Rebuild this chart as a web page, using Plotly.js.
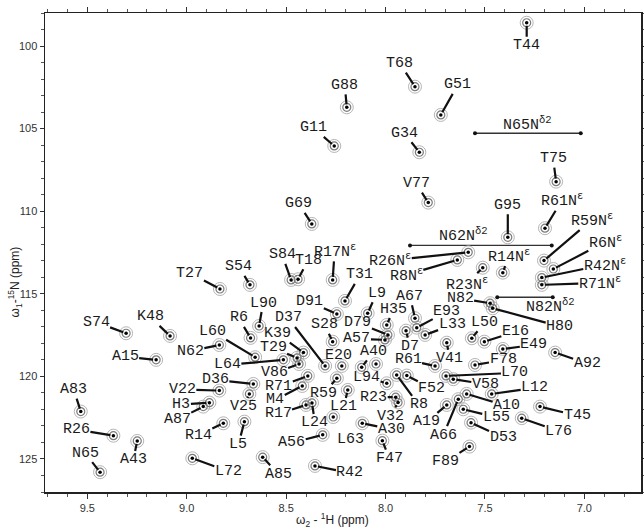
<!DOCTYPE html>
<html>
<head>
<meta charset="utf-8">
<script src="https://cdn.plot.ly/plotly-3.0.1.min.js"></script>
<style>html,body{margin:0;padding:0;background:#fff;}#chart{width:644px;height:529px;}</style>
</head>
<body>
<div id="chart"></div>
<script>
// Peak assignments (1H ppm, 15N ppm)
const peakLabels = ['T44','T68','G88','G51','G11','G34','T75','V77','G69','G95',
 'R61N<sup>ε</sup>','R17N<sup>ε</sup>','R26N<sup>ε</sup>','R8N<sup>ε</sup>','R59N<sup>ε</sup>','R6N<sup>ε</sup>','R42N<sup>ε</sup>','R71N<sup>ε</sup>','R14N<sup>ε</sup>','R23N<sup>ε</sup>',
 'N82','H80','T27','S54','S84','T18','T31','S74','K48','A15',
 'L90','R6','N62','L60','L64','K39','T29','V86','D36','V22',
 'H3','A87','V25','R71','M4','R17','L24','R14','L5','A83',
 'R26','N65','A43','L72','A85','R42','A56','L63','L21','R59',
 'A30','F47','F89','D53','L76','T45','L55','A10','L12','A19',
 'A66','L70','V58','F78','V41','E49','A92','L50','E16','L33',
 'E93','A67','D7','H35','L9','D91','D79','A57','S28','D37',
 'E20','A40','','R61','F52','R8','L94','R23','V32'];
const peakH = [7.290,7.852,8.195,7.722,8.258,7.830,7.142,7.785,8.371,7.385,
 7.198,8.266,7.584,7.639,7.203,7.156,7.214,7.214,7.410,7.511,
 7.474,7.461,8.833,8.682,8.475,8.440,8.204,9.305,9.084,9.154,
 8.636,8.679,8.836,8.656,8.514,8.413,8.445,8.435,8.665,8.836,
 8.886,8.917,8.685,8.391,8.419,8.400,8.370,8.816,8.710,9.533,
 9.369,9.436,9.249,8.972,8.618,8.355,8.316,8.263,8.190,8.245,
 8.117,8.016,7.578,7.570,7.315,7.223,7.609,7.592,7.466,7.692,
 7.634,7.696,7.659,7.550,7.692,7.410,7.147,7.566,7.503,7.801,
 7.843,7.852,7.897,7.994,8.090,8.245,7.988,8.003,8.266,8.304,
 8.220,8.120,8.048,7.751,7.893,7.944,7.994,7.949,7.937];
const peakN = [98.59,102.46,103.71,104.17,106.05,106.43,108.21,109.48,110.77,111.58,
 111.03,114.16,112.49,112.95,112.99,113.50,114.02,114.46,113.72,113.42,
 115.57,115.88,114.71,114.46,114.16,114.12,115.43,117.39,117.55,119.00,
 116.95,117.67,118.10,118.84,119.00,118.56,118.88,119.25,120.46,120.86,
 121.59,121.83,121.06,119.97,120.58,121.73,121.61,122.84,122.74,122.13,
 123.59,125.80,123.91,124.96,124.89,125.42,123.54,122.46,120.82,120.11,
 122.84,123.89,124.25,122.80,122.53,121.83,121.99,121.06,121.06,121.73,
 121.38,119.97,120.17,119.31,117.96,118.34,118.56,117.69,117.90,117.49,
 117.05,116.48,117.23,116.89,116.18,116.22,117.49,117.79,117.90,119.37,
 119.37,119.45,119.25,119.37,119.95,119.91,120.42,121.26,121.58];

// Side-chain NH2 pairs
const scLabels = ['N65N<sup>δ2</sup>','N62N<sup>δ2</sup>','N82N<sup>δ2</sup>'];
const scH1 = [7.550, 7.877, 7.438];
const scH2 = [7.018, 7.164, 7.159];
const scN = [105.28, 112.07, 115.21];

// Label placement (pixel offsets from the peak) – layout only
const labelDx = [0,-15,-2,17,-21,-15,-3,-12,-13,0,
 17,2,-78,-51,48,52,63,58,6,-16,
 -30,67,-30,-11,-9,10,15,-30,-20,-31,
 4,-12,-29,-43,-56,-26,-24,-25,-38,-37,
 -28,-26,-6,-29,-27,-28,3,-25,-6,-7,
 -37,-15,-4,36,16,35,-31,17,-4,-13,
 29,7,-24,32,37,37,33,40,43,-20,
 -15,69,32,28,3,31,32,13,31,27,
 30,-5,4,7,9,-27,-30,-28,-8,-37,
 -3,12,0,-27,25,22,-20,-22,-8];
const labelDy = [23,-23,-22,-30,-18,-19,-23,-19,-20,-32,
 -28,-29,8,15,-41,-27,-13,-2,-17,16,
 -5,18,-16,-18,-25,-19,-26,-11,-19,-3,
 -23,-20,6,-26,5,-19,-10,9,-4,-1,
 2,13,13,11,14,9,20,12,23,-22,
 -6,-19,19,13,17,7,8,22,17,15,
 6,18,15,15,13,9,8,12,-6,17,
 36,-3,5,-5,16,-4,11,-16,-10,-10,
 -16,-22,16,-16,-20,-12,-12,-1,-17,-48,
 -10,-16,0,-6,13,30,-6,0,14];
const scShiftX = [0,-17,25];
const scShiftY = [9,10,-9];

const labelFont = {family:'"Liberation Mono", "Courier New", monospace', size:15, color:'#1a1a1a'};

const traces = [];
// side-chain connecting lines
const lx = [], ly = [];
for (let i = 0; i < scN.length; i++) { lx.push(scH1[i], scH2[i], null); ly.push(scN[i], scN[i], null); }
traces.push({type:'scatter', mode:'lines+markers', x:lx, y:ly, hoverinfo:'skip',
  line:{color:'#333', width:1.3}, marker:{size:4, color:'#111'}});
// peak contours (outer rings + centre dot)
traces.push({type:'scatter', mode:'markers', x:peakH, y:peakN, hoverinfo:'skip',
  marker:{symbol:'circle-open', size:13, color:'#b5b5b5', line:{width:1}}});
traces.push({type:'scatter', mode:'markers', x:peakH, y:peakN, hoverinfo:'skip',
  marker:{symbol:'circle-open', size:8, color:'#7a7a7a', line:{width:1.2}}});
traces.push({type:'scatter', mode:'markers', x:peakH, y:peakN, hoverinfo:'skip',
  marker:{symbol:'circle', size:3.5, color:'#000'}});

const annotations = [];
for (let i = 0; i < peakLabels.length; i++) {
  if (!peakLabels[i]) continue;
  annotations.push({x:peakH[i], y:peakN[i], xref:'x', yref:'y', text:peakLabels[i],
    showarrow:true, ax:labelDx[i], ay:labelDy[i], arrowhead:0, arrowwidth:2.2,
    arrowcolor:'#111', standoff:3, font:labelFont, borderpad:0});
}
for (let i = 0; i < scLabels.length; i++) {
  annotations.push({x:(scH1[i]+scH2[i])/2, y:scN[i], xref:'x', yref:'y', text:scLabels[i],
    showarrow:false, xshift:scShiftX[i], yshift:scShiftY[i], font:labelFont});
}
// axis titles
annotations.push({xref:'paper', yref:'paper', x:0.483, y:-0.058, xanchor:'center', yanchor:'middle',
  text:'ω<sub>2</sub> - <sup>1</sup>H (ppm)', showarrow:false,
  font:{family:'"Liberation Sans", Arial, sans-serif', size:12, color:'#222'}});
annotations.push({xref:'paper', yref:'paper', x:-0.05, y:0.438, xanchor:'center', yanchor:'middle',
  textangle:-90, text:'ω<sub>1</sub>-<sup>15</sup>N (ppm)', showarrow:false,
  font:{family:'"Liberation Sans", Arial, sans-serif', size:12, color:'#222'}});

const tickFont = {family:'"Liberation Sans", Arial, sans-serif', size:11, color:'#333'};
const layout = {
  width:644, height:529,
  margin:{l:45, r:3, t:13, b:37},
  paper_bgcolor:'#fff', plot_bgcolor:'#fff',
  showlegend:false,
  xaxis:{range:[9.713, 6.715], showgrid:false, zeroline:false, showline:true, linecolor:'#222', linewidth:1.5,
    mirror:'allticks', ticks:'outside', ticklen:5, tickcolor:'#333', tickwidth:1,
    tickmode:'linear', tick0:7, dtick:0.5, tickformat:'.1f', tickfont:tickFont,
    minor:{dtick:0.1, tick0:7, ticks:'outside', ticklen:3, tickcolor:'#555'}},
  yaxis:{range:[127, 98], showgrid:false, zeroline:false, showline:true, linecolor:'#222', linewidth:1.5,
    mirror:'allticks', ticks:'outside', ticklen:4, tickcolor:'#333', tickwidth:1,
    tickmode:'linear', tick0:100, dtick:5, tickfont:tickFont,
    minor:{dtick:1, tick0:100, ticks:'outside', ticklen:3, tickcolor:'#555'}},
  annotations:annotations
};
Plotly.newPlot('chart', traces, layout, {displayModeBar:false, staticPlot:true});
</script>
</body>
</html>
